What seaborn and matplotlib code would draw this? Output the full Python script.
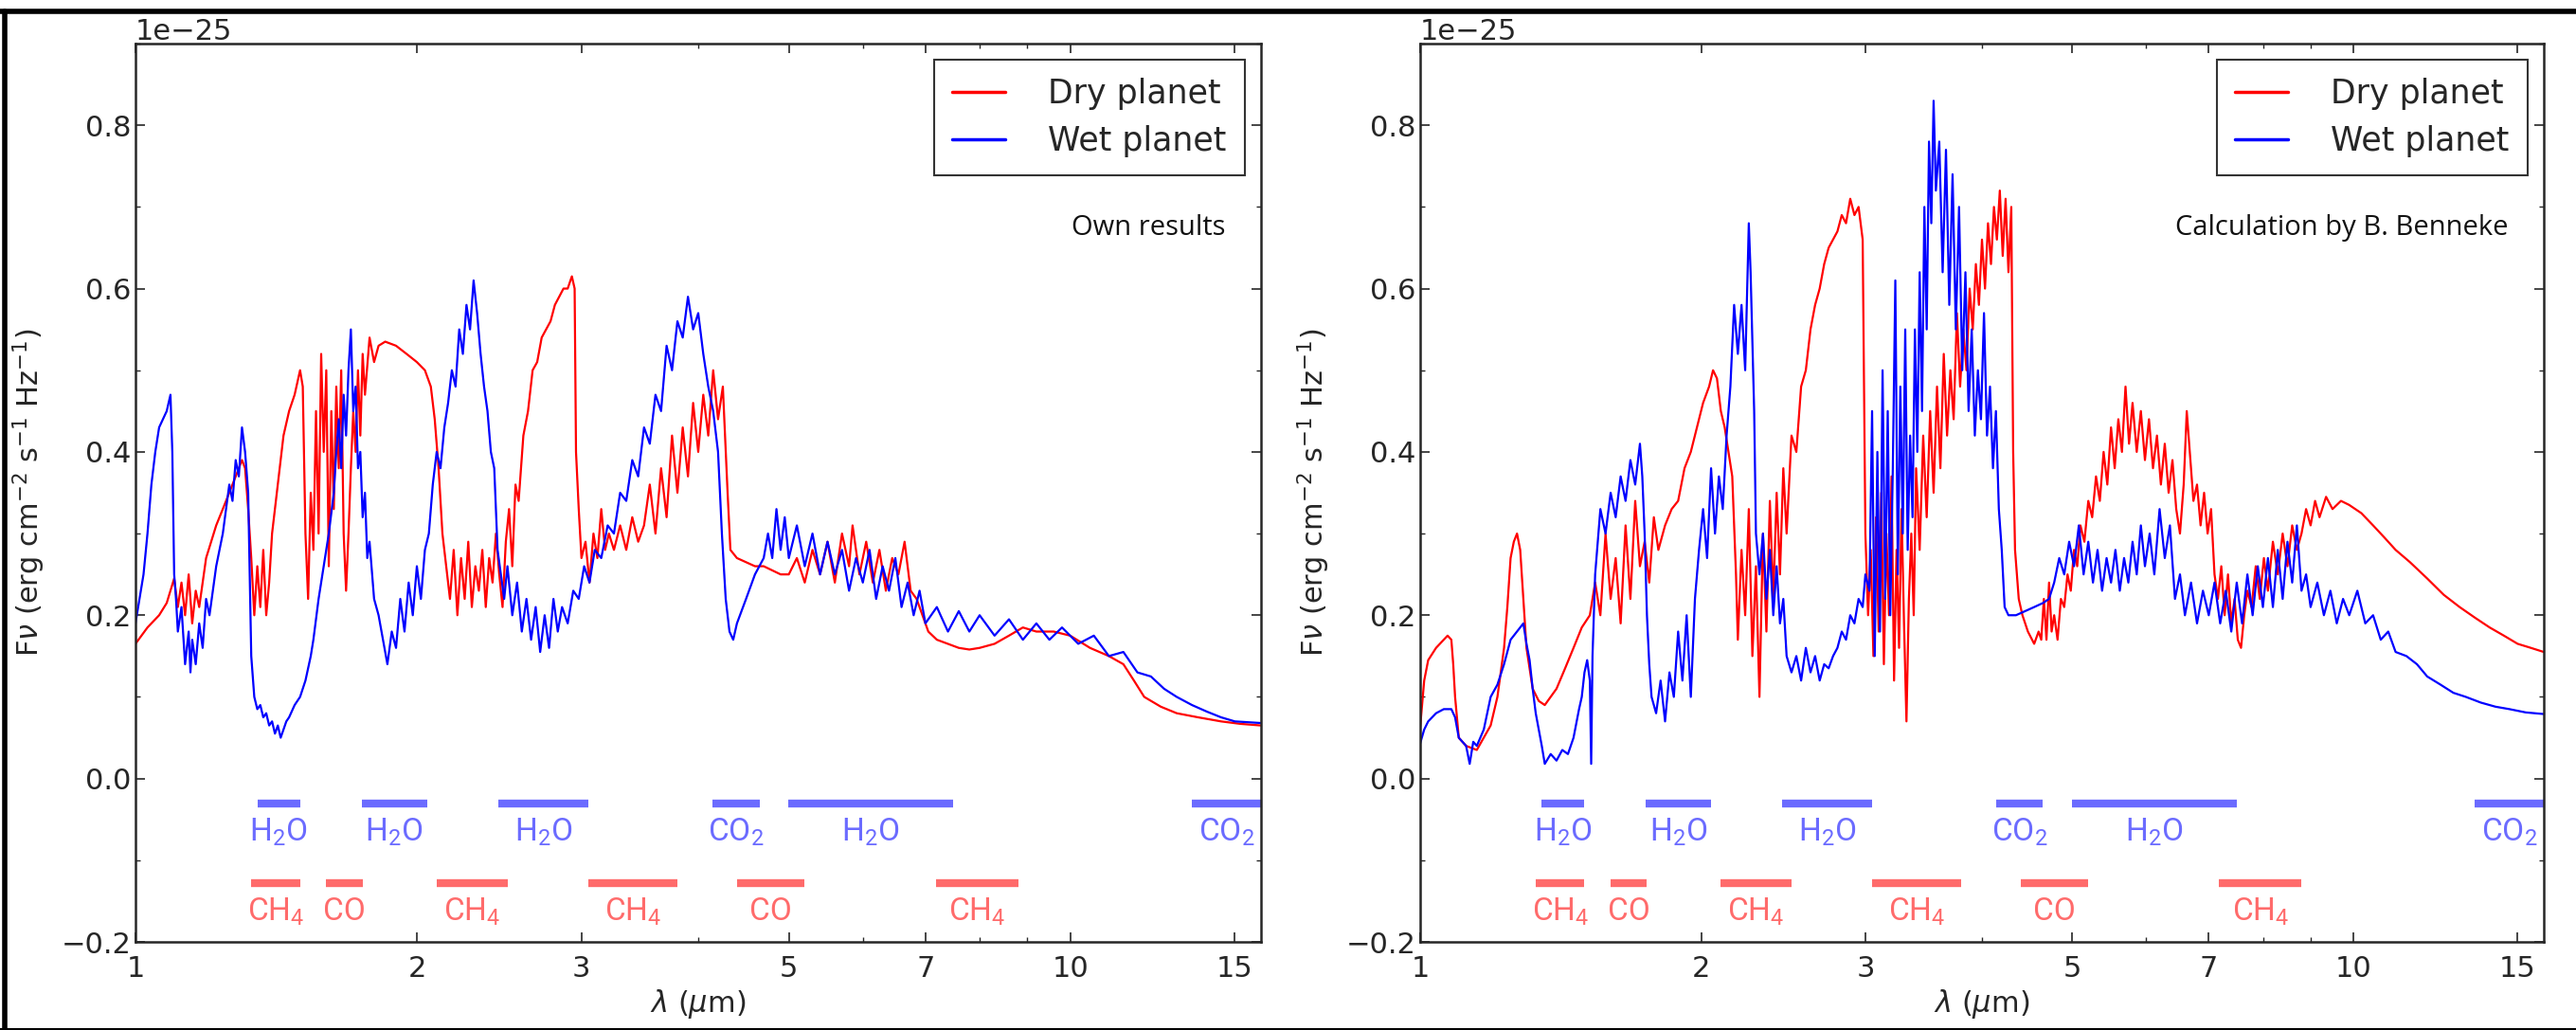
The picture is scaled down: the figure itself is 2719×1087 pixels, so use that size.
import numpy as np
import matplotlib
matplotlib.use("Agg")
import matplotlib.pyplot as plt
import seaborn as sns
from matplotlib.ticker import FixedLocator, FixedFormatter, NullFormatter
from matplotlib.lines import Line2D

sns.set_style("ticks")
plt.rcParams.update({
    "font.family": ["DejaVu Sans"],
    "font.size": 22,
    "axes.linewidth": 1.8,
    "xtick.direction": "in",
    "ytick.direction": "in",
    "xtick.top": True,
    "ytick.right": True,
    "xtick.major.size": 7,
    "ytick.major.size": 7,
    "xtick.minor.size": 3.5,
    "ytick.minor.size": 3.5,
    "xtick.major.width": 1.2,
    "ytick.major.width": 1.2,
    "xtick.minor.width": 1.0,
    "ytick.minor.width": 1.0,
    "xtick.labelsize": 22,
    "ytick.labelsize": 22,
})

# -------- spectra (wavelength in um, flux in 1e-25 erg/cm2/s/Hz) --------
own_dry = [
    (1.00, 0.165), (1.03, 0.185), (1.06, 0.20), (1.08, 0.215), (1.10, 0.245), (1.11, 0.21),
    (1.12, 0.24), (1.13, 0.20), (1.14, 0.25), (1.15, 0.19), (1.16, 0.23), (1.17, 0.21),
    (1.19, 0.27), (1.22, 0.31), (1.25, 0.34), (1.28, 0.37), (1.30, 0.39), (1.31, 0.38),
    (1.32, 0.33), (1.33, 0.27), (1.34, 0.20), (1.35, 0.26), (1.36, 0.21), (1.37, 0.28),
    (1.38, 0.20), (1.39, 0.24), (1.40, 0.30), (1.42, 0.36), (1.44, 0.42), (1.46, 0.45),
    (1.48, 0.47), (1.50, 0.50), (1.51, 0.48), (1.52, 0.30), (1.53, 0.22), (1.54, 0.35),
    (1.55, 0.28), (1.56, 0.45), (1.57, 0.30), (1.58, 0.52), (1.59, 0.40), (1.60, 0.50),
    (1.61, 0.26), (1.62, 0.45), (1.63, 0.33), (1.64, 0.48), (1.65, 0.38), (1.66, 0.50),
    (1.67, 0.30), (1.68, 0.23), (1.69, 0.30), (1.70, 0.38), (1.71, 0.45), (1.72, 0.40),
    (1.73, 0.50), (1.74, 0.42), (1.75, 0.52), (1.76, 0.47), (1.78, 0.54), (1.80, 0.51),
    (1.82, 0.53), (1.85, 0.535), (1.90, 0.53), (1.95, 0.52), (2.00, 0.51), (2.04, 0.50),
    (2.07, 0.48), (2.09, 0.44), (2.11, 0.38), (2.13, 0.30), (2.15, 0.26), (2.17, 0.22),
    (2.19, 0.28), (2.21, 0.20), (2.23, 0.27), (2.25, 0.22), (2.27, 0.29), (2.29, 0.21),
    (2.31, 0.26), (2.33, 0.23), (2.35, 0.28), (2.37, 0.21), (2.39, 0.27), (2.41, 0.24),
    (2.43, 0.30), (2.45, 0.25), (2.47, 0.21), (2.49, 0.29), (2.51, 0.33), (2.53, 0.26),
    (2.55, 0.36), (2.57, 0.34), (2.60, 0.42), (2.63, 0.45), (2.66, 0.50), (2.69, 0.51),
    (2.72, 0.54), (2.75, 0.55), (2.78, 0.56), (2.81, 0.58), (2.84, 0.59), (2.87, 0.60),
    (2.90, 0.60), (2.93, 0.615), (2.95, 0.60), (2.96, 0.40), (2.98, 0.33), (3.00, 0.27),
    (3.03, 0.29), (3.06, 0.24), (3.09, 0.30), (3.12, 0.27), (3.15, 0.33), (3.18, 0.28),
    (3.21, 0.30), (3.25, 0.28), (3.30, 0.31), (3.35, 0.28), (3.40, 0.32), (3.45, 0.29),
    (3.50, 0.31), (3.55, 0.36), (3.60, 0.30), (3.65, 0.38), (3.70, 0.32), (3.75, 0.42),
    (3.80, 0.35), (3.85, 0.43), (3.90, 0.37), (3.95, 0.46), (4.00, 0.40), (4.05, 0.47),
    (4.10, 0.42), (4.15, 0.50), (4.20, 0.44), (4.25, 0.48), (4.30, 0.35), (4.33, 0.28),
    (4.40, 0.27), (4.50, 0.265), (4.60, 0.26), (4.70, 0.26), (4.80, 0.255), (4.90, 0.25),
    (5.00, 0.25), (5.10, 0.27), (5.20, 0.24), (5.30, 0.28), (5.40, 0.25), (5.50, 0.29),
    (5.60, 0.24), (5.70, 0.30), (5.80, 0.26), (5.85, 0.31), (5.95, 0.25), (6.05, 0.29),
    (6.15, 0.24), (6.25, 0.28), (6.35, 0.23), (6.45, 0.27), (6.55, 0.25), (6.65, 0.29),
    (6.75, 0.23), (6.85, 0.22), (6.95, 0.20), (7.05, 0.18), (7.20, 0.17), (7.40, 0.165),
    (7.60, 0.16), (7.80, 0.158), (8.00, 0.16), (8.30, 0.165), (8.60, 0.175), (8.90, 0.185),
    (9.20, 0.18), (9.60, 0.18), (10.0, 0.175), (10.5, 0.16), (11.0, 0.15), (11.4, 0.14),
    (11.7, 0.12), (12.0, 0.10), (12.5, 0.088), (13.0, 0.08), (13.7, 0.075), (14.5, 0.07),
    (15.2, 0.067), (16.0, 0.065),
]

own_wet = [
    (1.00, 0.19), (1.01, 0.22), (1.02, 0.25), (1.03, 0.30), (1.04, 0.36), (1.05, 0.40),
    (1.06, 0.43), (1.07, 0.44), (1.08, 0.45), (1.09, 0.47), (1.095, 0.40), (1.10, 0.25),
    (1.105, 0.22), (1.11, 0.18), (1.12, 0.21), (1.13, 0.14), (1.14, 0.18), (1.145, 0.13),
    (1.15, 0.17), (1.16, 0.14), (1.17, 0.19), (1.18, 0.16), (1.19, 0.22), (1.20, 0.20),
    (1.22, 0.26), (1.24, 0.30), (1.25, 0.33), (1.26, 0.36), (1.27, 0.34), (1.28, 0.39),
    (1.29, 0.37), (1.30, 0.43), (1.31, 0.40), (1.32, 0.35), (1.33, 0.15), (1.34, 0.10),
    (1.35, 0.085), (1.36, 0.09), (1.37, 0.075), (1.38, 0.08), (1.39, 0.065), (1.40, 0.07),
    (1.41, 0.055), (1.42, 0.065), (1.43, 0.05), (1.44, 0.06), (1.45, 0.07), (1.46, 0.075),
    (1.48, 0.09), (1.50, 0.10), (1.52, 0.12), (1.54, 0.15), (1.55, 0.17), (1.57, 0.22),
    (1.59, 0.26), (1.61, 0.30), (1.63, 0.35), (1.64, 0.40), (1.65, 0.44), (1.66, 0.38),
    (1.67, 0.47), (1.68, 0.42), (1.69, 0.50), (1.70, 0.55), (1.71, 0.45), (1.72, 0.48),
    (1.73, 0.38), (1.74, 0.40), (1.75, 0.32), (1.76, 0.35), (1.77, 0.27), (1.78, 0.29),
    (1.80, 0.22), (1.82, 0.20), (1.84, 0.17), (1.86, 0.14), (1.88, 0.18), (1.90, 0.16),
    (1.92, 0.22), (1.94, 0.18), (1.96, 0.24), (1.98, 0.20), (2.00, 0.26), (2.02, 0.22),
    (2.04, 0.28), (2.06, 0.30), (2.08, 0.36), (2.10, 0.40), (2.12, 0.38), (2.14, 0.43),
    (2.16, 0.46), (2.18, 0.50), (2.20, 0.48), (2.22, 0.55), (2.24, 0.52), (2.26, 0.58),
    (2.28, 0.55), (2.30, 0.61), (2.32, 0.57), (2.34, 0.52), (2.36, 0.48), (2.38, 0.45),
    (2.40, 0.40), (2.42, 0.38), (2.44, 0.28), (2.46, 0.25), (2.48, 0.22), (2.50, 0.26),
    (2.53, 0.20), (2.56, 0.24), (2.59, 0.18), (2.62, 0.22), (2.65, 0.17), (2.68, 0.21),
    (2.71, 0.155), (2.74, 0.20), (2.77, 0.16), (2.80, 0.22), (2.83, 0.18), (2.86, 0.21),
    (2.90, 0.19), (2.94, 0.23), (2.98, 0.22), (3.02, 0.26), (3.06, 0.24), (3.10, 0.28),
    (3.15, 0.27), (3.20, 0.31), (3.25, 0.30), (3.30, 0.35), (3.35, 0.34), (3.40, 0.39),
    (3.45, 0.37), (3.50, 0.43), (3.55, 0.41), (3.60, 0.47), (3.65, 0.45), (3.70, 0.53),
    (3.75, 0.50), (3.80, 0.56), (3.85, 0.54), (3.90, 0.59), (3.95, 0.55), (4.00, 0.57),
    (4.05, 0.52), (4.10, 0.48), (4.15, 0.45), (4.20, 0.40), (4.24, 0.30), (4.28, 0.22),
    (4.32, 0.18), (4.36, 0.17), (4.40, 0.19), (4.50, 0.22), (4.60, 0.25), (4.70, 0.27),
    (4.75, 0.30), (4.80, 0.27), (4.85, 0.33), (4.90, 0.28), (4.95, 0.32), (5.00, 0.27),
    (5.10, 0.31), (5.20, 0.26), (5.30, 0.30), (5.40, 0.25), (5.50, 0.29), (5.60, 0.25),
    (5.70, 0.28), (5.80, 0.23), (5.90, 0.27), (6.00, 0.24), (6.10, 0.28), (6.20, 0.22),
    (6.30, 0.26), (6.40, 0.23), (6.50, 0.27), (6.60, 0.21), (6.70, 0.24), (6.80, 0.20),
    (6.90, 0.23), (7.00, 0.19), (7.20, 0.21), (7.40, 0.18), (7.60, 0.205), (7.80, 0.18),
    (8.00, 0.20), (8.30, 0.175), (8.60, 0.195), (8.90, 0.17), (9.20, 0.19), (9.50, 0.17),
    (9.80, 0.185), (10.2, 0.165), (10.6, 0.175), (11.0, 0.15), (11.4, 0.155), (11.8, 0.13),
    (12.2, 0.125), (12.6, 0.11), (13.0, 0.10), (13.5, 0.09), (14.0, 0.082), (14.5, 0.075),
    (15.0, 0.07), (16.0, 0.068),
]

ben_dry = [
    (1.00, 0.063), (1.01, 0.12), (1.02, 0.145), (1.04, 0.16), (1.06, 0.17), (1.07, 0.175),
    (1.08, 0.17), (1.085, 0.14), (1.09, 0.10), (1.10, 0.05), (1.12, 0.04), (1.15, 0.035),
    (1.17, 0.05), (1.19, 0.065), (1.21, 0.10), (1.23, 0.16), (1.24, 0.21), (1.25, 0.27),
    (1.26, 0.29), (1.27, 0.30), (1.28, 0.28), (1.29, 0.22), (1.30, 0.16), (1.32, 0.11),
    (1.34, 0.095), (1.36, 0.09), (1.38, 0.10), (1.40, 0.11), (1.43, 0.135), (1.46, 0.16),
    (1.49, 0.185), (1.52, 0.20), (1.54, 0.24), (1.56, 0.20), (1.58, 0.30), (1.60, 0.22),
    (1.62, 0.27), (1.64, 0.19), (1.66, 0.31), (1.68, 0.22), (1.70, 0.34), (1.72, 0.26),
    (1.74, 0.29), (1.76, 0.24), (1.78, 0.32), (1.80, 0.28), (1.83, 0.31), (1.86, 0.33),
    (1.89, 0.34), (1.92, 0.38), (1.95, 0.40), (1.98, 0.43), (2.01, 0.46), (2.04, 0.48),
    (2.06, 0.50), (2.08, 0.49), (2.10, 0.45), (2.12, 0.43), (2.14, 0.40), (2.16, 0.37),
    (2.18, 0.25), (2.19, 0.17), (2.21, 0.28), (2.23, 0.20), (2.25, 0.33), (2.27, 0.15),
    (2.29, 0.26), (2.31, 0.10), (2.33, 0.30), (2.35, 0.18), (2.37, 0.34), (2.39, 0.22),
    (2.41, 0.35), (2.43, 0.25), (2.45, 0.38), (2.47, 0.30), (2.50, 0.42), (2.53, 0.40),
    (2.56, 0.48), (2.59, 0.50), (2.62, 0.55), (2.65, 0.58), (2.68, 0.60), (2.71, 0.63),
    (2.74, 0.65), (2.77, 0.66), (2.80, 0.67), (2.83, 0.69), (2.86, 0.68), (2.89, 0.71),
    (2.92, 0.69), (2.95, 0.70), (2.98, 0.66), (3.00, 0.30), (3.02, 0.20), (3.04, 0.28),
    (3.06, 0.15), (3.08, 0.32), (3.10, 0.18), (3.12, 0.35), (3.14, 0.14), (3.16, 0.30),
    (3.18, 0.20), (3.20, 0.37), (3.22, 0.12), (3.24, 0.28), (3.26, 0.16), (3.28, 0.33),
    (3.30, 0.19), (3.32, 0.07), (3.34, 0.22), (3.36, 0.30), (3.38, 0.20), (3.40, 0.38),
    (3.43, 0.28), (3.46, 0.42), (3.49, 0.32), (3.52, 0.45), (3.55, 0.35), (3.58, 0.48),
    (3.61, 0.38), (3.64, 0.52), (3.67, 0.42), (3.70, 0.50), (3.73, 0.44), (3.76, 0.57),
    (3.79, 0.48), (3.82, 0.55), (3.85, 0.50), (3.88, 0.60), (3.91, 0.55), (3.94, 0.63),
    (3.97, 0.58), (4.00, 0.66), (4.03, 0.60), (4.06, 0.68), (4.09, 0.63), (4.12, 0.70),
    (4.15, 0.66), (4.18, 0.72), (4.21, 0.64), (4.24, 0.71), (4.27, 0.62), (4.30, 0.70),
    (4.32, 0.40), (4.34, 0.28), (4.38, 0.22), (4.42, 0.20), (4.48, 0.18), (4.55, 0.165),
    (4.60, 0.18), (4.63, 0.17), (4.66, 0.22), (4.69, 0.17), (4.72, 0.24), (4.75, 0.18),
    (4.78, 0.20), (4.82, 0.17), (4.86, 0.22), (4.90, 0.21), (4.94, 0.25), (4.98, 0.23),
    (5.02, 0.28), (5.06, 0.26), (5.10, 0.31), (5.15, 0.29), (5.20, 0.34), (5.25, 0.32),
    (5.30, 0.37), (5.35, 0.34), (5.40, 0.40), (5.45, 0.36), (5.50, 0.43), (5.55, 0.38),
    (5.60, 0.44), (5.65, 0.40), (5.70, 0.48), (5.75, 0.41), (5.80, 0.46), (5.86, 0.40),
    (5.92, 0.45), (5.98, 0.39), (6.04, 0.44), (6.10, 0.38), (6.16, 0.42), (6.22, 0.36),
    (6.28, 0.41), (6.34, 0.35), (6.40, 0.39), (6.46, 0.33), (6.52, 0.30), (6.58, 0.36),
    (6.63, 0.45), (6.68, 0.40), (6.74, 0.34), (6.80, 0.36), (6.86, 0.31), (6.92, 0.35),
    (6.98, 0.30), (7.04, 0.33), (7.10, 0.25), (7.16, 0.22), (7.22, 0.26), (7.28, 0.20),
    (7.34, 0.25), (7.40, 0.19), (7.46, 0.22), (7.52, 0.17), (7.58, 0.16), (7.64, 0.20),
    (7.70, 0.23), (7.78, 0.21), (7.86, 0.26), (7.94, 0.22), (8.02, 0.27), (8.10, 0.23),
    (8.20, 0.29), (8.30, 0.25), (8.40, 0.30), (8.50, 0.26), (8.60, 0.31), (8.70, 0.28),
    (8.80, 0.30), (8.90, 0.33), (9.00, 0.31), (9.10, 0.34), (9.20, 0.32), (9.35, 0.345),
    (9.50, 0.33), (9.70, 0.34), (9.90, 0.335), (10.2, 0.325), (10.5, 0.31), (10.8, 0.295),
    (11.1, 0.28), (11.5, 0.265), (12.0, 0.245), (12.5, 0.225), (13.0, 0.21), (13.5, 0.197),
    (14.0, 0.185), (14.5, 0.175), (15.0, 0.165), (15.5, 0.16), (16.0, 0.155),
]

ben_wet = [
    (1.00, 0.043), (1.01, 0.06), (1.02, 0.07), (1.04, 0.08), (1.06, 0.085), (1.08, 0.085),
    (1.09, 0.075), (1.10, 0.05), (1.12, 0.04), (1.13, 0.018), (1.14, 0.045), (1.15, 0.04),
    (1.17, 0.06), (1.19, 0.10), (1.21, 0.115), (1.23, 0.14), (1.25, 0.17), (1.27, 0.18),
    (1.29, 0.19), (1.30, 0.165), (1.31, 0.145), (1.32, 0.11), (1.33, 0.08), (1.35, 0.04),
    (1.36, 0.018), (1.38, 0.03), (1.40, 0.022), (1.42, 0.035), (1.44, 0.03), (1.46, 0.05),
    (1.48, 0.085), (1.49, 0.10), (1.50, 0.13), (1.51, 0.145), (1.52, 0.12), (1.525, 0.018),
    (1.53, 0.15), (1.54, 0.25), (1.56, 0.33), (1.58, 0.30), (1.60, 0.35), (1.62, 0.32),
    (1.64, 0.37), (1.66, 0.34), (1.68, 0.39), (1.70, 0.36), (1.72, 0.41), (1.73, 0.37),
    (1.74, 0.30), (1.75, 0.20), (1.76, 0.14), (1.77, 0.10), (1.79, 0.08), (1.81, 0.12),
    (1.83, 0.07), (1.85, 0.13), (1.87, 0.10), (1.89, 0.18), (1.91, 0.12), (1.93, 0.20),
    (1.95, 0.10), (1.97, 0.22), (1.99, 0.28), (2.01, 0.33), (2.03, 0.27), (2.05, 0.38),
    (2.07, 0.30), (2.09, 0.37), (2.11, 0.33), (2.13, 0.42), (2.15, 0.48), (2.17, 0.58),
    (2.19, 0.52), (2.21, 0.58), (2.23, 0.50), (2.25, 0.68), (2.26, 0.62), (2.28, 0.45),
    (2.29, 0.30), (2.31, 0.25), (2.33, 0.30), (2.35, 0.22), (2.37, 0.28), (2.39, 0.20),
    (2.41, 0.26), (2.43, 0.19), (2.45, 0.22), (2.47, 0.15), (2.50, 0.13), (2.53, 0.15),
    (2.56, 0.12), (2.59, 0.16), (2.62, 0.13), (2.65, 0.15), (2.68, 0.12), (2.71, 0.14),
    (2.74, 0.135), (2.77, 0.15), (2.80, 0.16), (2.83, 0.18), (2.86, 0.17), (2.89, 0.20),
    (2.92, 0.19), (2.95, 0.22), (2.98, 0.21), (3.00, 0.25), (3.03, 0.23), (3.05, 0.45),
    (3.07, 0.15), (3.09, 0.40), (3.11, 0.18), (3.13, 0.50), (3.15, 0.22), (3.17, 0.45),
    (3.19, 0.20), (3.21, 0.38), (3.23, 0.61), (3.25, 0.25), (3.27, 0.48), (3.29, 0.30),
    (3.31, 0.55), (3.33, 0.28), (3.35, 0.42), (3.37, 0.32), (3.39, 0.55), (3.41, 0.40),
    (3.43, 0.62), (3.45, 0.45), (3.47, 0.70), (3.49, 0.55), (3.51, 0.78), (3.53, 0.68),
    (3.55, 0.83), (3.57, 0.72), (3.60, 0.78), (3.63, 0.62), (3.66, 0.77), (3.69, 0.58),
    (3.72, 0.74), (3.75, 0.55), (3.78, 0.70), (3.81, 0.50), (3.84, 0.62), (3.87, 0.45),
    (3.90, 0.55), (3.93, 0.42), (3.96, 0.50), (3.99, 0.44), (4.02, 0.57), (4.05, 0.42),
    (4.08, 0.48), (4.11, 0.38), (4.14, 0.45), (4.17, 0.33), (4.20, 0.28), (4.23, 0.21),
    (4.27, 0.20), (4.35, 0.20), (4.45, 0.205), (4.55, 0.21), (4.65, 0.215), (4.72, 0.22),
    (4.78, 0.24), (4.84, 0.27), (4.90, 0.25), (4.96, 0.29), (5.02, 0.26), (5.08, 0.31),
    (5.14, 0.25), (5.20, 0.29), (5.26, 0.24), (5.32, 0.28), (5.38, 0.23), (5.44, 0.27),
    (5.50, 0.24), (5.56, 0.28), (5.62, 0.23), (5.68, 0.27), (5.74, 0.24), (5.80, 0.29),
    (5.86, 0.25), (5.92, 0.31), (5.98, 0.26), (6.05, 0.30), (6.12, 0.25), (6.20, 0.33),
    (6.28, 0.27), (6.36, 0.31), (6.44, 0.22), (6.52, 0.25), (6.60, 0.20), (6.70, 0.24),
    (6.80, 0.19), (6.90, 0.23), (7.00, 0.20), (7.10, 0.24), (7.20, 0.19), (7.30, 0.23),
    (7.40, 0.18), (7.50, 0.24), (7.60, 0.19), (7.70, 0.25), (7.80, 0.20), (7.90, 0.26),
    (8.00, 0.21), (8.10, 0.27), (8.20, 0.21), (8.30, 0.28), (8.40, 0.22), (8.50, 0.29),
    (8.60, 0.24), (8.70, 0.31), (8.80, 0.23), (8.90, 0.25), (9.00, 0.21), (9.15, 0.24),
    (9.30, 0.20), (9.45, 0.23), (9.60, 0.19), (9.75, 0.22), (9.90, 0.20), (10.1, 0.23),
    (10.3, 0.19), (10.5, 0.20), (10.7, 0.17), (10.9, 0.18), (11.1, 0.155), (11.4, 0.15),
    (11.7, 0.14), (12.0, 0.125), (12.4, 0.115), (12.8, 0.105), (13.2, 0.10), (13.7, 0.093),
    (14.2, 0.088), (14.7, 0.085), (15.3, 0.081), (16.0, 0.079),
]

# -------- absorption bands (label, from, to) --------
blue_bands = [
    (r"H$_\mathregular{2}$O", 1.35, 1.50),
    (r"H$_\mathregular{2}$O", 1.745, 2.05),
    (r"H$_\mathregular{2}$O", 2.445, 3.05),
    (r"CO$_\mathregular{2}$", 4.14, 4.65),
    (r"H$_\mathregular{2}$O", 4.99, 7.5),
    (r"CO$_\mathregular{2}$", 13.5, 16.0),
]
red_bands = [
    (r"CH$_\mathregular{4}$", 1.33, 1.50),
    ("CO", 1.60, 1.75),
    (r"CH$_\mathregular{4}$", 2.10, 2.50),
    (r"CH$_\mathregular{4}$", 3.05, 3.80),
    ("CO", 4.40, 5.20),
    (r"CH$_\mathregular{4}$", 7.18, 8.80),
]
BAND_Y = {"blue": -0.031, "red": -0.128}
LABEL_Y = {"blue": -0.066, "red": -0.163}
BAND_COL = {"blue": "#6b6bff", "red": "#ff6b6b"}

x_major = [1, 2, 3, 5, 7, 10, 15]
x_minor = [4, 6, 8, 9]
y_major = [-0.2, 0.0, 0.2, 0.4, 0.6, 0.8]
y_minor = [-0.1, 0.1, 0.3, 0.5, 0.7, 0.9]

panels = [
    (own_dry, own_wet, "Own results"),
    (ben_dry, ben_wet, "Calculation by B. Benneke"),
]
axes_pos = [
    [143 / 2719, 1 - 994 / 1087, 1188 / 2719, 948 / 1087],
    [1499 / 2719, 1 - 994 / 1087, 1186 / 2719, 948 / 1087],
]

SCALE = 1e-25
fig = plt.figure(figsize=(27.19, 10.87), dpi=100)

for (dry, wet, note), pos in zip(panels, axes_pos):
    ax = fig.add_axes(pos)
    dwl, dfx = zip(*dry)
    wwl, wfx = zip(*wet)
    sns.lineplot(x=np.array(dwl), y=np.array(dfx) * SCALE, color="red", lw=1.6,
                 estimator=None, sort=False, label="Dry planet", ax=ax)
    sns.lineplot(x=np.array(wwl), y=np.array(wfx) * SCALE, color="blue", lw=1.6,
                 estimator=None, sort=False, label="Wet planet", ax=ax)

    for key, bands in (("blue", blue_bands), ("red", red_bands)):
        for lab, lo, hi in bands:
            ax.plot([lo, hi], [BAND_Y[key] * SCALE] * 2, color=BAND_COL[key], lw=6,
                    solid_capstyle="butt")
            ax.text(np.sqrt(lo * hi), LABEL_Y[key] * SCALE, lab, color=BAND_COL[key],
                    ha="center", va="center", fontsize=24, family=["Roboto", "DejaVu Sans"])

    ax.set_xscale("log")
    ax.set_xlim(1, 16)
    ax.set_ylim(-0.2 * SCALE, 0.9 * SCALE)
    ax.xaxis.set_major_locator(FixedLocator(x_major))
    ax.xaxis.set_major_formatter(FixedFormatter([str(v) for v in x_major]))
    ax.xaxis.set_minor_locator(FixedLocator(x_minor))
    ax.xaxis.set_minor_formatter(NullFormatter())
    ax.yaxis.set_major_locator(FixedLocator([v * SCALE for v in y_major]))
    ax.yaxis.set_minor_locator(FixedLocator([v * SCALE for v in y_minor]))
    ax.ticklabel_format(axis="y", style="sci", scilimits=(-25, -25))
    ax.tick_params(which="both", top=True, right=True, direction="in")
    ax.tick_params(axis="x", pad=10)

    ax.set_xlabel(r"$\lambda$ ($\mu$m)", fontsize=22)
    ax.set_ylabel(r"F$\nu$ (erg cm$^{-2}$ s$^{-1}$ Hz$^{-1}$)", fontsize=22, labelpad=10)
    ax.yaxis.get_offset_text().set_fontsize(22)

    ax.text(0.968, 0.795, note, transform=ax.transAxes, ha="right", va="center",
            fontsize=21, family=["Open Sans", "DejaVu Sans"], color="#111111")

    leg = ax.legend(loc="upper right", fontsize=25, frameon=True, fancybox=False,
                    borderaxespad=0.5, handlelength=1.6, handletextpad=1.3,
                    borderpad=0.55, labelspacing=0.45)
    leg.get_frame().set_edgecolor("black")
    leg.get_frame().set_linewidth(1.5)
    for h in leg.get_lines():
        h.set_linewidth(2.5)

# frame around the whole picture
fig.add_artist(Line2D([0, 1], [1 - 12 / 1087] * 2, transform=fig.transFigure, color="black", lw=4))
fig.add_artist(Line2D([5 / 2719] * 2, [0, 1 - 12 / 1087], transform=fig.transFigure, color="black", lw=4))
fig.add_artist(Line2D([0, 1], [1.5 / 1087] * 2, transform=fig.transFigure, color="black", lw=1.5))

fig.savefig("out.png", dpi=100)
